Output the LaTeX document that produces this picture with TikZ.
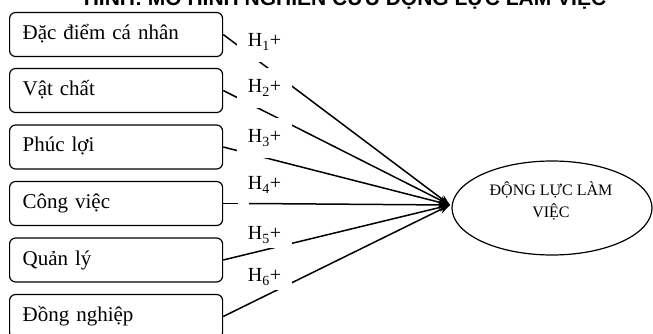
\documentclass[tikz,border=0pt]{standalone}
\usepackage{fontspec}
\setmainfont{Liberation Serif}
\newfontfamily\titlefont{Liberation Sans}
\usetikzlibrary{arrows.meta,shapes.geometric}
\begin{document}
\begin{tikzpicture}[x=1pt,y=-1pt,
  factor/.style={draw,rounded corners=6pt,line width=1.2pt,minimum height=44pt,
    text width=187pt,inner xsep=13pt,inner ysep=0pt,align=left,
    text height=14pt,text depth=4pt,font=\fontsize{21}{25}\selectfont,anchor=west},
  hlabel/.style={fill=white,minimum width=55pt,inner sep=0pt,font=\fontsize{20}{24}\selectfont},
  link/.style={line width=1.5pt,-{Stealth[length=11pt,width=8pt]}},
  plain/.style={line width=1.5pt}]
\useasboundingbox (0,0) rectangle (653,334);
\clip (0,0) rectangle (653,334);
\node[anchor=base,font=\titlefont\bfseries\fontsize{21}{25}\selectfont] (title) at (345,5.5) {HÌNH: MÔ HÌNH NGHIÊN CỨU ĐỘNG LỰC LÀM VIỆC};
\node[factor] (b1) at (9,34.5) {Đặc điểm cá nhân};
\node[factor] (b2) at (9,90.5) {Vật chất};
\node[factor] (b3) at (9,147) {Phúc lợi};
\node[factor] (b4) at (9,203.5) {Công việc};
\node[factor] (b5) at (9,260) {Quản lý};
\node[factor] (b6) at (9,316.5) {Đồng nghiệp};
\node[draw,ellipse,line width=1.2pt,minimum width=200pt,minimum height=94pt,inner sep=0pt] (dl) at (552,208) {};
\node[align=center,font=\fontsize{16}{22}\selectfont] (dltext) at (551,201) {ĐỘNG LỰC LÀM\\VIỆC};
\coordinate (tip) at (450,205);
\coordinate (g4a) at (238,203.5);
\coordinate (g4b) at (249,203.5);
\draw[link] (b1.east) -- (tip);
\draw[link] (b2.east) -- (tip);
\draw[link] (b3.east) -- (tip);
\draw[plain] (b4.east) -- (g4a);
\draw[link] (g4b) -- (tip);
\draw[link] (b5.east) -- (tip);
\draw[link] (b6.east) -- (tip);
\node[hlabel,minimum height=40pt] (h1) at (264.5,42) {H\textsubscript{1}+};
\node[hlabel,minimum height=40pt] (h2) at (264.5,88) {H\textsubscript{2}+};
\node[hlabel,minimum height=40pt] (h3) at (264.5,138) {H\textsubscript{3}+};
\node[hlabel,minimum height=30pt] (h4) at (264.5,185) {H\textsubscript{4}+};
\node[hlabel,minimum height=26pt] (h5) at (264.5,235) {H\textsubscript{5}+};
\node[hlabel,minimum height=26pt] (h6) at (264.5,277) {H\textsubscript{6}+};
\end{tikzpicture}
\end{document}
